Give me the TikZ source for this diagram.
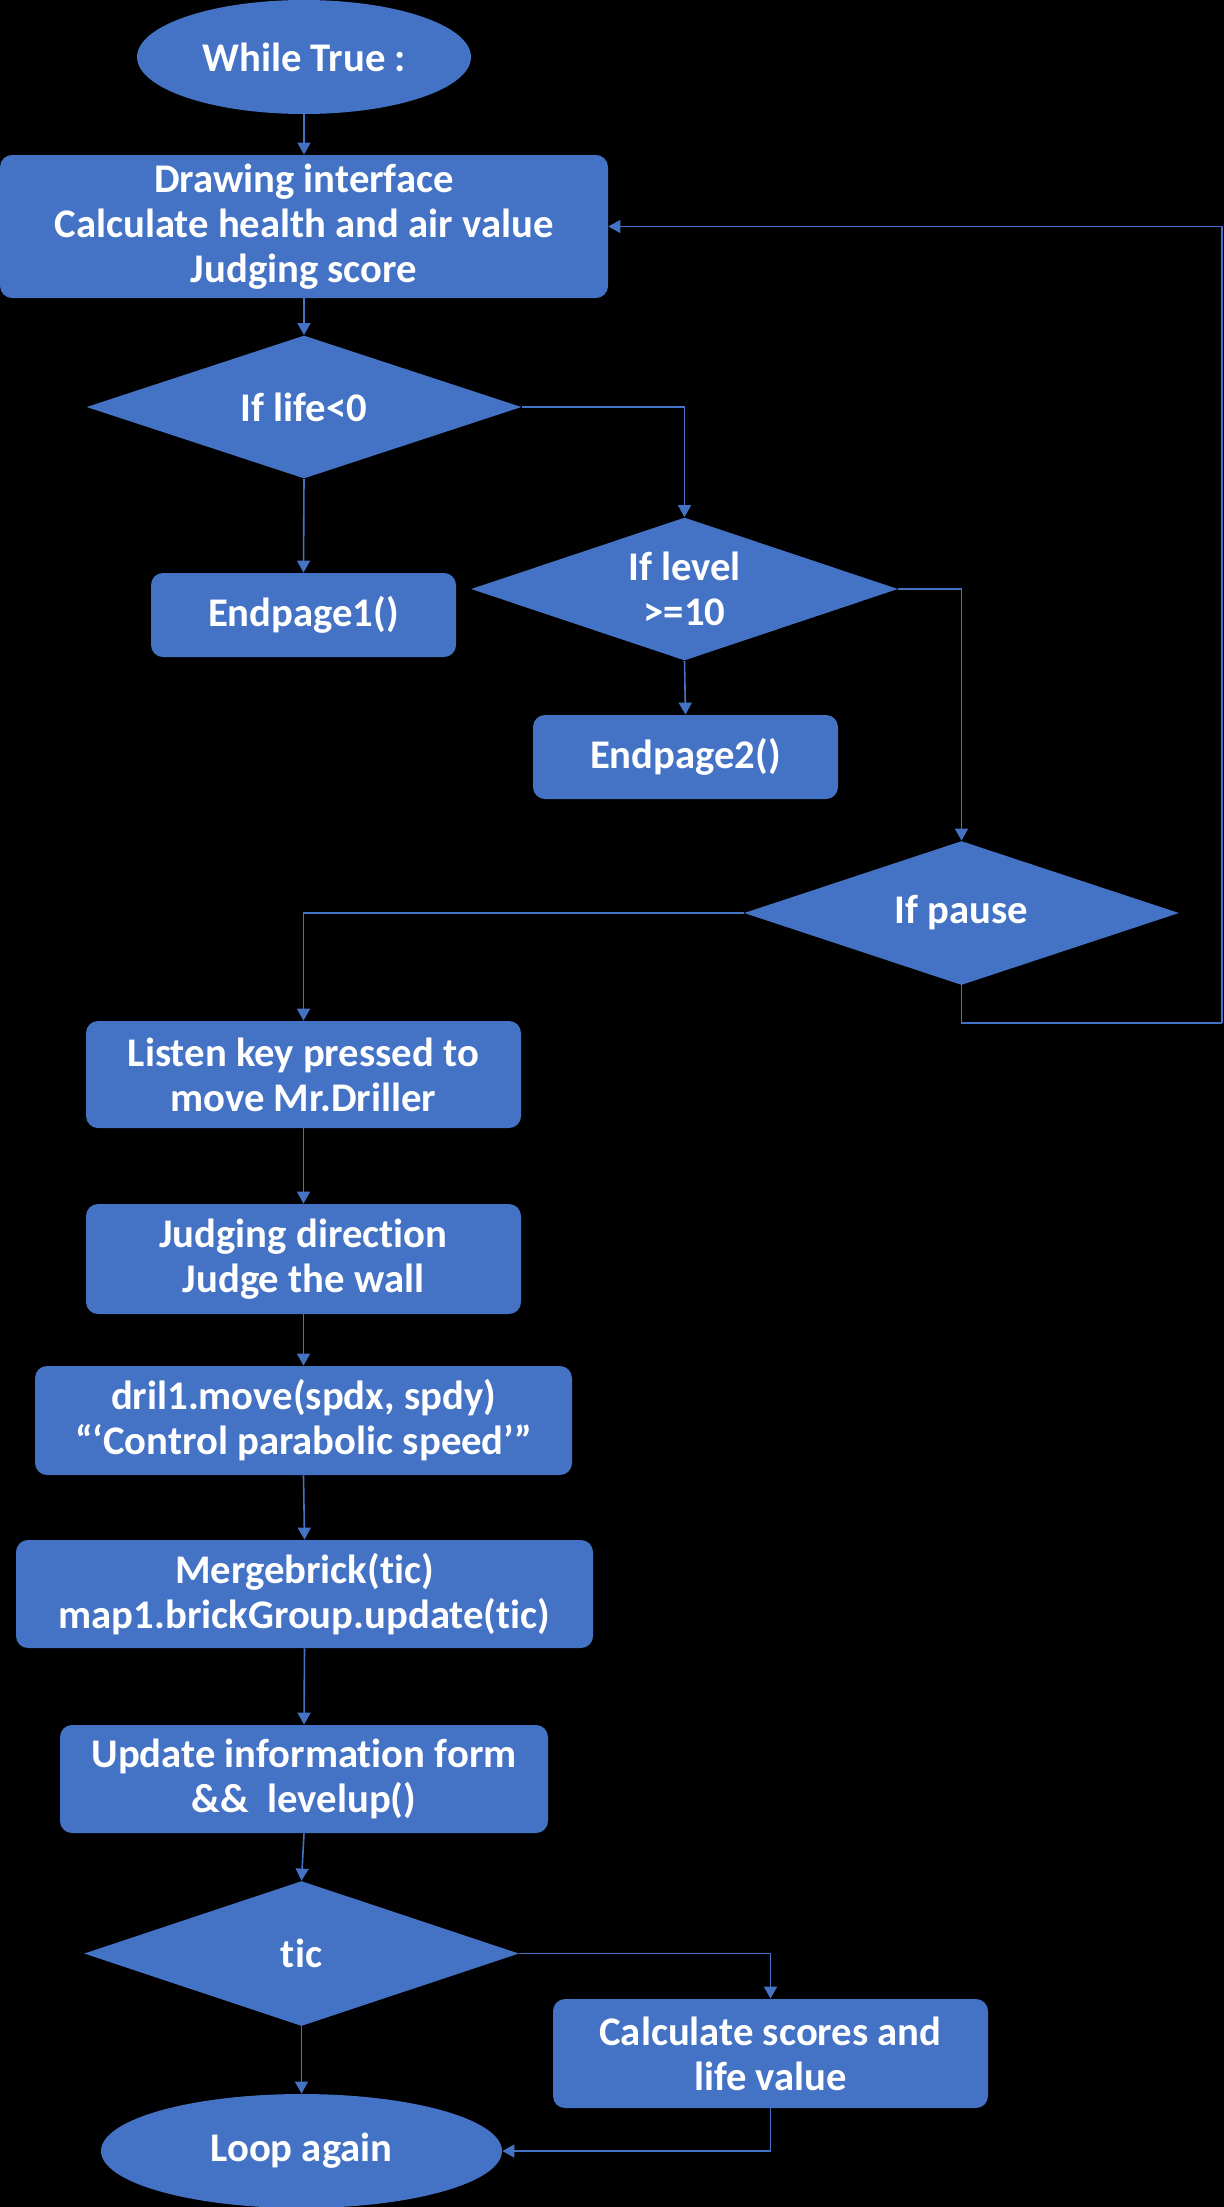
\documentclass[tikz,border=0pt]{standalone}
\usepackage{fontspec}
\setmainfont{Carlito}[Ligatures=NoCommon]
\usetikzlibrary{shapes.geometric,arrows.meta}
\definecolor{ofblue}{HTML}{4472C4}
\begin{document}
\begin{tikzpicture}[x=0.5pt,y=-0.5pt,
  shp/.style={font=\fontsize{20.35pt}{22.5pt}\selectfont\bfseries, text=white, fill=ofblue, align=center, inner sep=0pt},
  pbox/.style={shp, rectangle, rounded corners=6pt},
  term/.style={shp, ellipse},
  dec/.style={shp, diamond, aspect=3},
  conn/.style={draw=ofblue, line width=0.8pt, -{Triangle[length=6pt,width=6.5pt]}},
  plain/.style={draw=ofblue, line width=0.8pt}]
\fill[black] (0,0) rectangle (1224,2207);
\useasboundingbox (0,0) rectangle (1224,2207);

\node[term, minimum width=167pt, minimum height=57pt] (wt) at (304,57) {While True\hspace{0.22em}:};
\node[pbox, minimum width=304pt, minimum height=71.5pt] (b1) at (304,226.5) {Drawing interface\\Calculate health and air value\\Judging score};
\node[dec, minimum width=217.5pt, minimum height=71.5pt] (d1) at (304,407) {If life<0};
\node[pbox, minimum width=152.5pt, minimum height=42pt] (ep1) at (303.5,615) {Endpage1()};
\node[dec, minimum width=213.5pt, minimum height=71.5pt] (d2) at (684.5,589) {If level\\>=10};
\node[pbox, minimum width=152.5pt, minimum height=42pt] (ep2) at (685.5,757) {Endpage2()};
\node[dec, minimum width=217.5pt, minimum height=72pt] (d3) at (961.5,913) {If pause};
\node[pbox, minimum width=217.5pt, minimum height=53.5pt] (ls) at (303.5,1074.5) {Listen key pressed to\\move Mr.Driller};
\node[pbox, minimum width=217.5pt, minimum height=55pt] (jd) at (303.5,1259) {Judging direction\\Judge the wall};
\node[pbox, minimum width=268.5pt, minimum height=54.5pt] (dr) at (303.5,1420.5) {dril1.move(spdx, spdy)\\“‘Control parabolic speed’”};
\node[pbox, minimum width=288.5pt, minimum height=54pt] (mg) at (304.5,1594) {Mergebrick(tic)\\map1.brickGroup.update(tic)};
\node[pbox, minimum width=244pt, minimum height=54pt] (up) at (304,1779) {Update information form\\\&\&\ \ levelup()};
\node[dec, minimum width=217.5pt, minimum height=72.5pt] (d4) at (301.5,1953.5) {tic};
\node[pbox, minimum width=217.5pt, minimum height=54.5pt] (cs) at (770.5,2053.5) {Calculate scores and\\life value};
\node[term, minimum width=200.5pt, minimum height=57pt] (lp) at (301.5,2151) {Loop again};
\coordinate (c1) at (1222,1023);

\draw[conn] (wt.south) -- (b1.north);
\draw[conn] (b1.south) -- (d1.north);
\draw[conn] (d1.south) -- (ep1.north);
\draw[conn] (d1.east) -| (d2.north);
\draw[conn] (d2.south) -- (ep2.north);
\draw[conn] (d2.east) -| (d3.north);
\draw[conn] (d3.west) -| (ls.north);
\draw[plain] (d3.south) |- (c1);
\draw[conn] (c1) |- (b1.east);
\draw[conn] (ls.south) -- (jd.north);
\draw[conn] (jd.south) -- (dr.north);
\draw[conn] (dr.south) -- (mg.north);
\draw[conn] (mg.south) -- (up.north);
\draw[conn] (up.south) -- (d4.north);
\draw[conn] (d4.east) -| (cs.north);
\draw[conn] (d4.south) -- (lp.north);
\draw[conn] (cs.south) |- (lp.east);
\end{tikzpicture}
\end{document}
